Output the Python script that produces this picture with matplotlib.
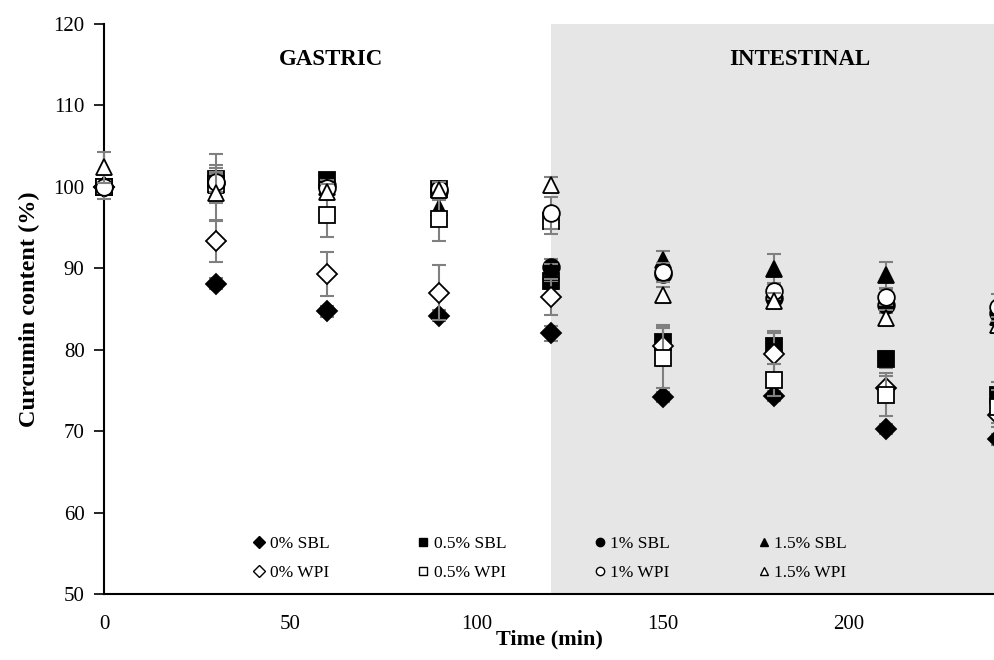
import numpy as np
import matplotlib.pyplot as plt
from matplotlib.lines import Line2D

plt.rcParams['font.family'] = ['Liberation Serif', 'DejaVu Serif']

time = [0, 30, 60, 90, 120, 150, 180, 210, 240]

# mean curcumin content (%) and SD per formulation
sbl0 = [100, 88.1, 84.7, 84.2, 82.0, 74.2, 74.3, 70.3, 69.0]
sbl05 = [100, 101.0, 100.8, 99.8, 88.5, 80.9, 80.5, 78.8, 74.5]
sbl1 = [100, 100.5, 100.2, 99.5, 90.1, 89.3, 86.4, 85.5, 84.5]
sbl15 = [100, 100.2, 100.0, 97.4, 89.5, 91.0, 89.9, 89.2, 84.0]
wpi0 = [100, 93.3, 89.3, 87.0, 86.5, 80.5, 79.5, 75.3, 72.0]
wpi05 = [100, 100.3, 96.6, 96.0, 95.8, 79.0, 76.3, 74.5, 73.0]
wpi1 = [100, 100.6, 99.9, 99.7, 96.8, 89.5, 87.2, 86.5, 85.2]
wpi15 = [102.4, 99.3, 99.4, 99.6, 100.2, 86.7, 86.0, 83.9, 83.0]

sd_sbl0 = [0.5, 0.7, 0.7, 0.7, 0.9, 0.6, 0.6, 0.6, 0.7]
sd_sbl05 = [0.5, 3.0, 0.5, 0.6, 1.0, 2.0, 1.5, 1.0, 1.5]
sd_sbl1 = [0.5, 1.0, 0.6, 0.6, 1.0, 1.0, 1.0, 1.0, 1.0]
sd_sbl15 = [0.5, 1.5, 0.8, 1.0, 1.0, 1.1, 1.8, 1.6, 1.0]
sd_wpi0 = [0.5, 2.5, 2.7, 3.4, 2.2, 2.5, 2.8, 1.5, 1.5]
sd_wpi05 = [1.5, 2.0, 2.8, 2.6, 1.6, 3.7, 2.0, 2.6, 2.0]
sd_wpi1 = [0.5, 1.2, 0.5, 0.6, 2.0, 1.2, 1.0, 1.0, 1.7]
sd_wpi15 = [1.9, 3.4, 1.0, 1.0, 1.0, 1.0, 1.0, 1.0, 1.0]

series = [
    ("0% SBL", sbl0, sd_sbl0, "D", "black", 10),
    ("0.5% SBL", sbl05, sd_sbl05, "s", "black", 11),
    ("1% SBL", sbl1, sd_sbl1, "o", "black", 12),
    ("1.5% SBL", sbl15, sd_sbl15, "^", "black", 12),
    ("0% WPI", wpi0, sd_wpi0, "D", "white", 10),
    ("0.5% WPI", wpi05, sd_wpi05, "s", "white", 11),
    ("1% WPI", wpi1, sd_wpi1, "o", "white", 12),
    ("1.5% WPI", wpi15, sd_wpi15, "^", "white", 12),
]

fig = plt.figure(figsize=(9.94, 6.6), dpi=100)
ax = fig.add_axes([0.1046, 0.1, 0.8954, 0.8636])

ax.axvspan(120, 300, color="#e6e6e6", zorder=0, lw=0)

handles = []
for i, (lab, y, sd, mk, fc, ms) in enumerate(series):
    ax.errorbar(time, y, yerr=sd, fmt="none", ecolor="#808080", elinewidth=1.5,
                capsize=5, capthick=1.5, zorder=2 + i, clip_on=False)
    ax.plot(time, y, ls="none", marker=mk, ms=ms, mfc=fc, mec="black",
            mew=1.3, zorder=2.5 + i, clip_on=False)
    handles.append(Line2D([], [], ls="none", marker=mk, ms=6, mfc=fc,
                          mec="black", mew=1.0, label=lab))

ax.set_xlim(0, 239)
ax.set_ylim(50, 120)
ax.set_xticks([0, 50, 100, 150, 200])
ax.set_yticks(np.arange(50, 121, 10))
ax.tick_params(axis="x", length=0, pad=15, labelsize=15)
ax.tick_params(axis="y", length=7, width=1.2, pad=7, labelsize=15)
ax.spines["right"].set_visible(False)
ax.spines["top"].set_visible(False)
ax.spines["left"].set_linewidth(1.5)
ax.spines["bottom"].set_linewidth(1.5)

ax.set_xlabel("Time (min)", fontsize=16, fontweight="bold")
ax.xaxis.set_label_coords(0.5, -0.062)
ax.set_ylabel("Curcumin content (%)", fontsize=17.5, fontweight="bold")
ax.yaxis.set_label_coords(-0.072, 0.5)

ax.text(61, 115.6, "GASTRIC", ha="center", va="center", fontsize=16.5, fontweight="bold")
ax.text(186.7, 115.6, "INTESTINAL", ha="center", va="center", fontsize=16.5, fontweight="bold")

order = [0, 4, 1, 5, 2, 6, 3, 7]
fig.legend([handles[k] for k in order], [handles[k].get_label() for k in order],
           ncol=4, loc="center", bbox_to_anchor=(0.552, 0.154), frameon=False,
           fontsize=12.5, columnspacing=4.9, handletextpad=0.1, handlelength=1.0,
           labelspacing=0.75)

fig.savefig("out.png", dpi=100)
